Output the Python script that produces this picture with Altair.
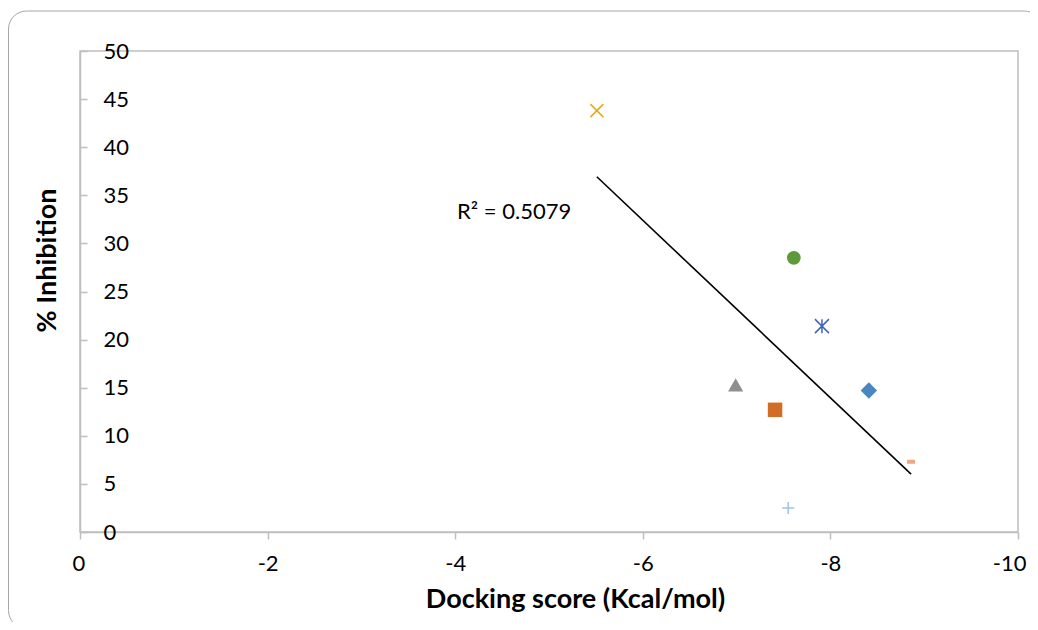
import altair as alt
import pandas as pd

# ---- data ----
names = ["C1", "C2", "C3", "C4", "C5", "C6", "C7", "C8"]
docking = [-5.51, -7.61, -7.91, -8.41, -6.99, -7.41, -8.86, -7.55]
inhibition = [43.8, 28.5, 21.4, 14.7, 15.3, 12.7, 7.3, 2.5]

x_ticks = [0, -2, -4, -6, -8, -10]
y_ticks = [0, 5, 10, 15, 20, 25, 30, 35, 40, 45, 50]

ann_text = ["R² = 0.5079"]
ann_x = [-4.02]
ann_y = [33.3]

# ---- marker styles ----
shapes = [
    "M-1,-1L1,1M-1,1L1,-1",                      # x
    "circle",
    "M-1,-1L1,1M-1,1L1,-1M0,-1L0,1",             # asterisk
    "diamond",
    "triangle-up",
    "square",
    "M-1,-0.5L1,-0.5L1,0.5L-1,0.5Z",             # dash
    "M-1,0L1,0M0,-1L0,1",                        # plus
]
colors = ["#E6A91A", "#5E9A3A", "#3F65B8", "#4A87C0", "#8F8F8F", "#D26D28", "#F2A585", "#9DC3E6"]
sizes = [169, 190, 196, 270, 230, 210, 64, 144]
filled = [False, True, False, True, True, True, True, False]

df = pd.DataFrame({"name": names, "x": docking, "y": inhibition, "filled": filled,
                   "shp": shapes, "col": colors, "sz": sizes})
ann = pd.DataFrame({"x": ann_x, "y": ann_y, "t": ann_text})

FONT = "Lato"
GRAY = "#BFBFBF"
W, H = 938, 481
LBL = 22
TTL = 27

xenc = alt.X(
    "x:Q",
    scale=alt.Scale(domain=[0, -10], nice=False, zero=False),
    axis=alt.Axis(
        values=x_ticks, grid=False, tickSize=7, tickColor=GRAY, tickWidth=1.5,
        domainColor=GRAY, domainWidth=1.5, labelFontSize=LBL, labelFont=FONT,
        labelColor="black", labelPadding=14, labelFlush=True, labelFlushOffset=8,
        labelExpr="'' + datum.value",
        title="Docking score (Kcal/mol)", titleFont=FONT, titleFontSize=TTL,
        titleFontWeight="bold", titleColor="black", titlePadding=12, titleX=495,
    ),
)
yenc = alt.Y(
    "y:Q",
    scale=alt.Scale(domain=[0, 50], nice=False),
    axis=alt.Axis(
        orient="right", offset=-W, values=y_ticks, grid=False, tickSize=7,
        tickColor=GRAY, tickWidth=1.5, domainColor=GRAY, domainWidth=1.5,
        labelFontSize=LBL, labelFont=FONT, labelColor="black", labelPadding=16,
        labelAlign="left", labelFlush=False,
        title="% Inhibition", titleFont=FONT, titleFontSize=TTL,
        titleFontWeight="bold", titleColor="black", titleAngle=270,
        titleX=-33, titleY=209, titleAlign="center", titleBaseline="middle",
    ),
)

shape_enc = alt.Shape("shp:N", scale=None)
color_enc = alt.Color("col:N", scale=None)
size_enc = alt.Size("sz:Q", scale=None)

base = alt.Chart(df)

border = alt.Chart(pd.DataFrame({"a": [1]})).mark_rect(
    fillOpacity=0, stroke="#A6A6A6", strokeWidth=1, cornerRadius=18
).encode(
    x=alt.value(-71.5), x2=alt.value(962), y=alt.value(-40), y2=alt.value(577.5)
)

reg = base.transform_regression("x", "y").mark_line(color="black", strokeWidth=1.6).encode(
    x=xenc, y=yenc
)

pts_filled = base.transform_filter("datum.filled").mark_point(
    filled=True, opacity=1
).encode(x=xenc, y=yenc, shape=shape_enc, color=color_enc, size=size_enc)

pts_stroked = base.transform_filter("!datum.filled").mark_point(
    filled=False, opacity=1, strokeWidth=1.5
).encode(x=xenc, y=yenc, shape=shape_enc, color=color_enc, size=size_enc)

text = alt.Chart(ann).mark_text(
    align="left", baseline="middle", fontSize=LBL, font=FONT, color="black"
).encode(x=alt.X("x:Q"), y=alt.Y("y:Q"), text="t:N")

chart = alt.layer(border, reg, pts_filled, pts_stroked, text).properties(
    width=W, height=H,
    padding={"left": 72, "top": 43, "right": 12, "bottom": 90},
    autosize="none",
).configure_view(stroke=GRAY, strokeWidth=1.5)

chart.save("out.html", embed_options={"renderer": "svg", "actions": False})
